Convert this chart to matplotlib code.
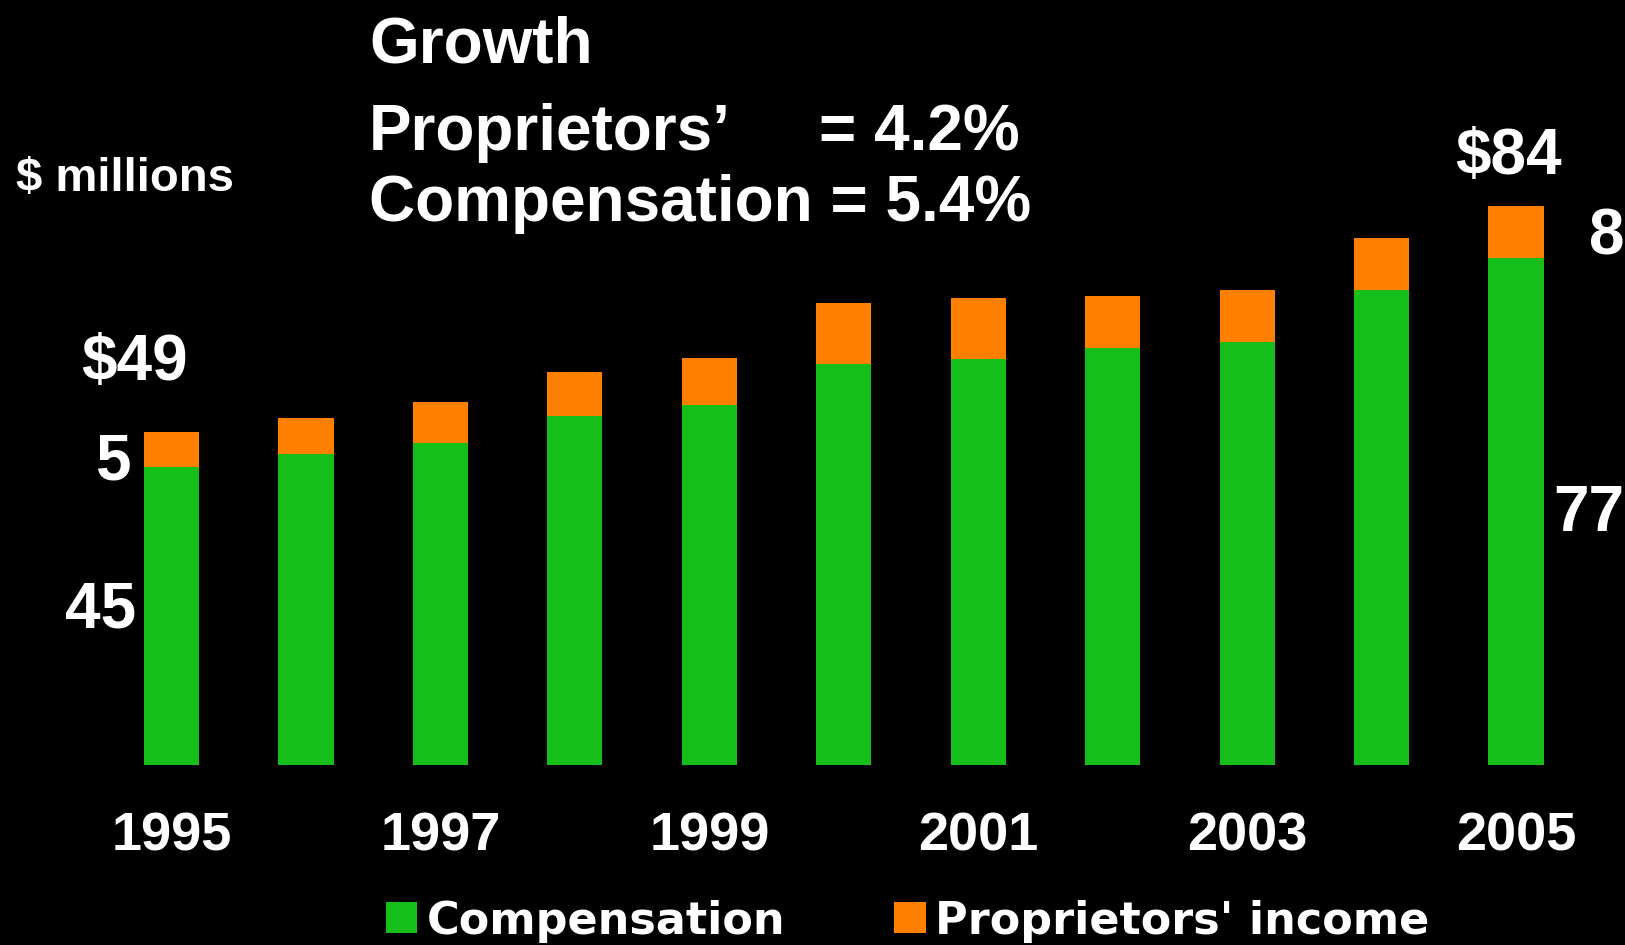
import matplotlib
matplotlib.use('Agg')
from matplotlib import pyplot as plt
from matplotlib.transforms import blended_transform_factory
import numpy as np

# values ($ millions)
years = ['1995', '1996', '1997', '1998', '1999', '2000',
         '2001', '2002', '2003', '2004', '2005']
compensation = [44.7, 46.7, 48.4, 52.4, 54.1, 60.3, 61.0, 62.7, 63.6, 71.4, 76.2]
proprietors = [5.3, 5.4, 6.2, 6.6, 7.1, 9.1, 9.2, 7.8, 7.8, 7.8, 7.8]

growth_lines = ['Growth', 'Proprietors\u2019', 'Compensation = 5.4%']
prop_growth = '= 4.2%'

green = '#16BE1A'
orange = '#FF7F00'

plt.rcParams['font.family'] = ['Liberation Sans', 'DejaVu Sans']
plt.rcParams['font.weight'] = 'bold'
plt.rcParams['text.color'] = 'white'

W, H = 1625, 945
fig = plt.figure(figsize=(16.252, 9.452), dpi=100, facecolor='black')
ax = fig.add_axes([0, 0, 1, 1])
ax.set_facecolor('black')

x = np.arange(len(years))
ax.bar(x, compensation, width=0.41, color=green, label='Compensation')
ax.bar(x, proprietors, bottom=compensation, width=0.41, color=orange,
       label="Proprietors' income")

# axis ranges chosen so the plot sits where it does in the slide
ax.set_xlim(-1.276, 10.812)
ax.set_ylim(-27.05, 114.95)
ax.axis('off')


def fy(py):
    return 1 - py / H


def fx(px):
    return px / W


# year labels, every other year
trans = blended_transform_factory(ax.transData, fig.transFigure)
for i in range(0, len(years), 2):
    ax.text(x[i], fy(850), years[i], transform=trans, ha='center',
            va='baseline', fontsize=39, fontweight='bold')

fig.text(fx(16), fy(191), '$ millions', fontsize=34, va='baseline')

fig.text(fx(369), fy(62), growth_lines[0], fontsize=46, va='baseline')
fig.text(fx(369), fy(150), growth_lines[1], fontsize=46, va='baseline')
fig.text(fx(819), fy(150), prop_growth, fontsize=46, va='baseline')
fig.text(fx(369), fy(221), growth_lines[2], fontsize=46, va='baseline')

# callouts for first and last year
fig.text(fx(1508), fy(174), '$84', fontsize=46, ha='center', va='baseline')
fig.text(fx(1589), fy(254), '8', fontsize=46, va='baseline')
fig.text(fx(1553), fy(531), '77', fontsize=46, va='baseline')
fig.text(fx(81), fy(380), '$49', fontsize=46, va='baseline')
fig.text(fx(95), fy(479), '5', fontsize=46, va='baseline')
fig.text(fx(65), fy(627), '45', fontsize=46, va='baseline')

leg = ax.legend(loc='center left', bbox_to_anchor=(fx(386), fy(921)),
                bbox_transform=fig.transFigure, ncol=2, frameon=False,
                borderpad=0, borderaxespad=0, handlelength=0.7, handleheight=0.7,
                handletextpad=0.22, columnspacing=2.45,
                prop={'family': 'DejaVu Sans', 'weight': 'bold', 'size': 32})
for t in leg.get_texts():
    t.set_color('white')

fig.savefig('out.png', dpi=100, facecolor='black')
